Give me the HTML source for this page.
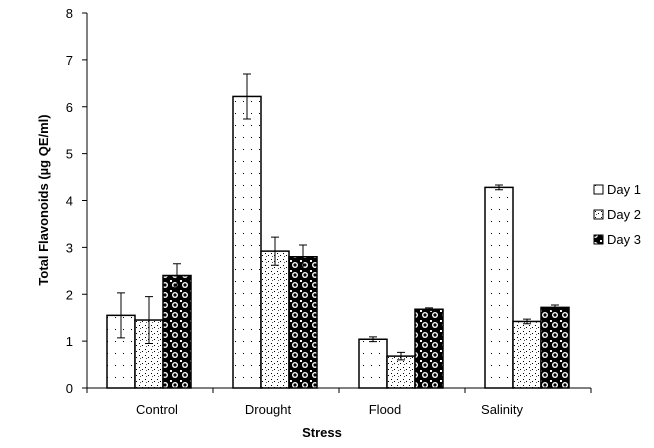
<!DOCTYPE html>
<html><head><meta charset="utf-8"><style>
body{margin:0;background:#fff;}
svg text{font-family:"Liberation Sans",sans-serif;fill:#000;}
</style></head><body>
<svg id="chart" width="654" height="443" xmlns="http://www.w3.org/2000/svg">
<defs>
<pattern id="p1" width="8" height="12" patternUnits="userSpaceOnUse"><rect width="8" height="12" fill="#fff"/><rect x="3" y="5" width="1" height="1" fill="#000"/></pattern>
<pattern id="p2" width="6" height="6" patternUnits="userSpaceOnUse"><rect width="6" height="6" fill="#fff"/><rect x="1" y="1" width="1" height="1" fill="#000"/><rect x="4" y="3" width="1" height="1" fill="#000"/><rect x="2" y="4" width="1" height="1" fill="#555"/></pattern>
<pattern id="p3" width="10" height="10" patternUnits="userSpaceOnUse"><rect width="10" height="10" fill="#000"/><circle cx="5" cy="5" r="3" fill="#fff"/><circle cx="5" cy="5" r="1.6" fill="#000"/><rect x="0" y="0" width="2" height="2" fill="#fff"/></pattern>
</defs>
<g id="plot"></g>
</svg>
<script>
const categories=["Control","Drought","Flood","Salinity"];
const seriesNames=["Day 1","Day 2","Day 3"];
const day1=[1.55,6.22,1.04,4.28];
const day2=[1.45,2.92,0.68,1.42];
const day3=[2.4,2.8,1.68,1.72];
const err1=[0.48,0.48,0.05,0.05];
const err2=[0.5,0.3,0.08,0.05];
const err3=[0.25,0.25,0.03,0.05];
const yTicks=[0,1,2,3,4,5,6,7,8];
const labelX=[157,268,385,502];

const NS="http://www.w3.org/2000/svg";
const g=document.getElementById('plot');
const x0=87,catW=126,y0=388,yMax=8,yTop=13;
const y=v=>y0-(v/yMax)*(y0-yTop);
const barW=28;
const barX=(c,s)=>x0+c*catW+20+s*barW;
function mk(t,a,p){const e=document.createElementNS(NS,t);for(const k in a)e.setAttribute(k,a[k]);(p||g).appendChild(e);return e;}

// y axis
let ax=mk('line',{x1:x0,y1:yTop,x2:x0,y2:y0,stroke:'#000'});


yTicks.forEach(t=>{
  const l=mk('line',{x1:x0-5,x2:x0,y1:y(t),y2:y(t),stroke:'#000'});
  
  
  const tx=mk('text',{x:x0-14,y:y(t)+5,'text-anchor':'end','font-size':13});
  tx.textContent=t;
  
  
});
let xa=mk('line',{x1:x0,y1:y0,x2:x0+4*catW,y2:y0,stroke:'#000'});


for(let i=0;i<=4;i++){
  const l=mk('line',{x1:x0+i*catW,x2:x0+i*catW,y1:y0,y2:y0+5,stroke:'#000'});
  
  
}
categories.forEach((c,i)=>{
  const t=mk('text',{x:labelX[i],y:414,'text-anchor':'middle','font-size':13});
  t.textContent=c;
  
  
});
const series=[day1,day2,day3],errs=[err1,err2,err3],fills=['url(#p1)','url(#p2)','url(#p3)'];
series.forEach((arr,s)=>{
  arr.forEach((v,c)=>{
    const r=mk('rect',{x:barX(c,s),y:y(v),width:barW,height:y0-y(v),fill:fills[s],stroke:'#000','stroke-width':1.5});
    
    
    const cx=barX(c,s)+barW/2,e=errs[s][c];
    const eb=mk('path',{d:`M${cx},${y(v+e)}V${y(v-e)}M${cx-4},${y(v+e)}H${cx+4}M${cx-4},${y(v-e)}H${cx+4}`,stroke:'#000','stroke-width':1,fill:'none'});
    
    
  });
});
// legend
seriesNames.forEach((n,i)=>{
  const ly=194+i*25;
  const r=mk('rect',{x:594,y:ly-9,width:9,height:9,fill:fills[i],stroke:'#000'});
  
  
  const t=mk('text',{x:607,y:ly,'font-size':13});
  t.textContent=n;
  
  
});
const yt=mk('text',{transform:'translate(48,200) rotate(-90)','text-anchor':'middle','font-size':13,'font-weight':'bold'});
yt.textContent='Total Flavonoids (µg QE/ml)';


const xt=mk('text',{x:322,y:437,'text-anchor':'middle','font-size':13,'font-weight':'bold'});
xt.textContent='Stress';


</script>
</body></html>
